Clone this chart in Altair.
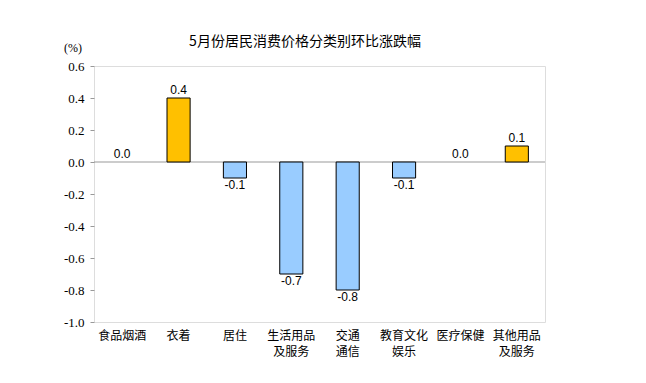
import altair as alt
import pandas as pd

categories = ["食品烟酒", "衣着", "居住", "生活用品\n及服务", "交通\n通信", "教育文化\n娱乐", "医疗保健", "其他用品\n及服务"]
values = [0.0, 0.4, -0.1, -0.7, -0.8, -0.1, 0.0, 0.1]
labels = ["0.0", "0.4", "-0.1", "-0.7", "-0.8", "-0.1", "0.0", "0.1"]
y_ticks = [-1.0, -0.8, -0.6, -0.4, -0.2, 0.0, 0.2, 0.4, 0.6]

df = pd.DataFrame({"cat": categories, "val": values, "lab": labels})

serif = "Times New Roman, Liberation Serif, DejaVu Serif, serif"

x_axis = alt.Axis(labelExpr="split(datum.label, '\\n')", labelAngle=0,
                  ticks=False, domain=False, labelPadding=8,
                  labelFont="Noto Sans CJK SC", labelFontSize=12,
                  labelColor="#000000", labelLineHeight=16,
                  labelBaseline="top", labelOverlap=False)
x_scale = alt.Scale(paddingInner=0.59, paddingOuter=0.295)
y_axis = alt.Axis(values=y_ticks, tickCount=9,
                  labelExpr="replace(format(datum.value, '.1f'), '\u2212', '-')",
                  domain=False, grid=False, tickColor="#999999", tickSize=4,
                  labelPadding=6, labelFont=serif, labelFontSize=13,
                  labelColor="#000000", labelOverlap=False, labelBound=False,
                  labelFlush=False)
y_scale = alt.Scale(domain=[-1.0, 0.6], nice=False, zero=False)

def X():
    return alt.X("cat:N", sort=categories, title=None, scale=x_scale, axis=x_axis)

def Y(field="val:Q"):
    return alt.Y(field, scale=y_scale, title=None, axis=y_axis)

base = alt.Chart(df)

bars = base.transform_filter("datum.val != 0").mark_bar(stroke="#000000", strokeWidth=1).encode(
    x=X(),
    y=Y(),
    y2=alt.datum(0),
    color=alt.condition("datum.val > 0", alt.value("#FFC000"), alt.value("#99CCFF")),
)

zero = alt.Chart(pd.DataFrame({"z": [0.0]})).mark_rule(color="#999999", strokeWidth=1).encode(
    y=Y("z:Q")
)

pos_text = base.transform_filter("datum.val >= 0").mark_text(
    baseline="bottom", dy=-1, font="Liberation Sans", fontSize=12, color="#000000"
).encode(x=X(), y=Y(), text="lab:N")

neg_text = base.transform_filter("datum.val < 0").mark_text(
    baseline="top", dy=2, font="Liberation Sans", fontSize=12, color="#000000"
).encode(x=X(), y=Y(), text="lab:N")

title = alt.Chart(pd.DataFrame({"t": ["5月份居民消费价格分类别环比涨跌幅"]})).mark_text(
    font="Noto Sans CJK SC", fontSize=14, color="#000000", baseline="middle", align="center"
).encode(x=alt.value(211), y=alt.value(-24), text="t:N")

unit = alt.Chart(pd.DataFrame({"t": ["(%)"]})).mark_text(
    font=serif, fontSize=12, color="#000000", baseline="middle", align="center"
).encode(x=alt.value(-21), y=alt.value(-18), text="t:N")

chart = alt.layer(zero, bars, pos_text, neg_text, title, unit).properties(
    width=451, height=256,
    autosize="none",
    padding={"left": 86, "top": 58, "right": 93, "bottom": 53},
).configure_view(stroke="#999999", strokeWidth=1).configure(background="#ffffff")

chart.save("out.html", embed_options={"renderer": "svg", "actions": False})
